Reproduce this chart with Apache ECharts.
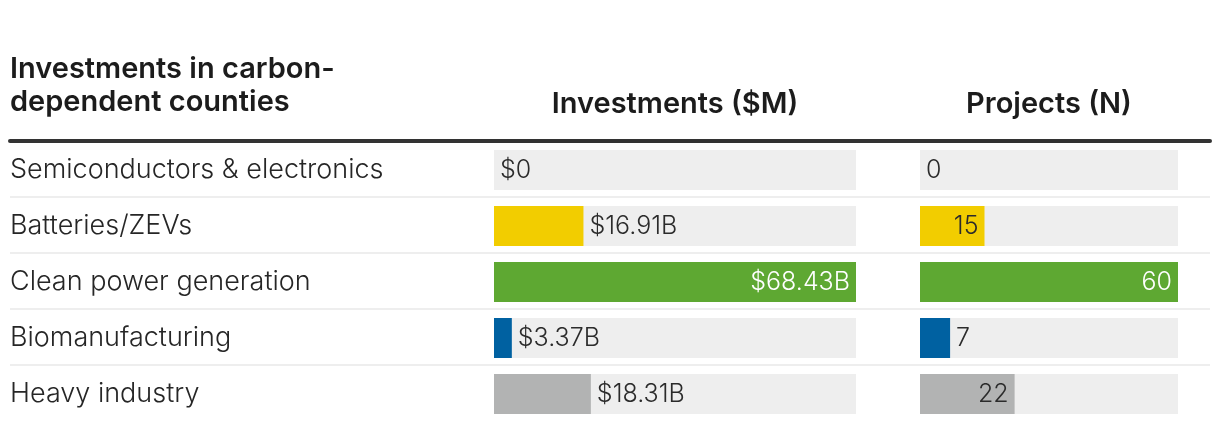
<!DOCTYPE html>
<html>
<head>
<meta charset="utf-8">
<title>Investments in carbon-dependent counties</title>
<script src="https://cdn.jsdelivr.net/npm/echarts@6/dist/echarts.min.js"></script>
<style>
  html, body { margin: 0; padding: 0; background: #fff; }
  #chart { width: 1220px; height: 430px; }
</style>
</head>
<body>
<div id="chart"></div>
<script>
// sectors, top to bottom
var sectors = [
  'Semiconductors & electronics',
  'Batteries/ZEVs',
  'Clean power generation',
  'Biomanufacturing',
  'Heavy industry'
]
// investments, billions of dollars
var investments = [0, 16.91, 68.43, 3.37, 18.31]
// number of projects
var projects = [0, 15, 60, 7, 22]

var sectorColors = ['#f2cd00', '#f2cd00', '#5ea832', '#0061a1', '#b2b3b3']
var FONT = 'Inter, "Noto Sans", sans-serif'
var VALUE_SIZE = 25
var HEAD_FONT = '600 29px ' + FONT

var ctx = document.createElement('canvas').getContext('2d')
ctx.font = '300 ' + VALUE_SIZE + 'px ' + FONT
function textWidth(s) {
  return ctx.measureText(s).width
}

// label goes inside the bar end when it has room, otherwise just right of it
function barData(values, trackWidth, fmt) {
  var max = Math.max.apply(null, values)
  return values.map(function (v, i) {
    var px = v / max * trackWidth
    var inside = px >= textWidth(fmt(v)) + 34
    var color = sectorColors[i]
    return {
      value: v,
      itemStyle: { color: color },
      label: {
        position: inside ? 'insideRight' : 'right',
        color: inside && color === '#5ea832' ? '#fff' : '#2b2b2b'
      }
    }
  })
}

function fmtMoney(v) {
  return v === 0 ? '$0' : '$' + v.toFixed(2) + 'B'
}
function fmtCount(v) {
  return String(v)
}

var myChart = echarts.init(document.getElementById('chart'))

var option = {
  animation: false,
  graphic: [
    {
      type: 'text',
      x: 10,
      y: 86,
      style: {
        text: 'Investments in carbon-\ndependent counties',
        font: HEAD_FONT,
        lineHeight: 33,
        fill: '#1c1c1c',
        textAlign: 'left',
        textVerticalAlign: 'middle'
      }
    },
    {
      type: 'text',
      x: 675,
      y: 104,
      style: {
        text: 'Investments ($M)',
        font: HEAD_FONT,
        fill: '#1c1c1c',
        textAlign: 'center',
        textVerticalAlign: 'middle'
      }
    },
    {
      type: 'text',
      x: 1049,
      y: 104,
      style: {
        text: 'Projects (N)',
        font: HEAD_FONT,
        fill: '#1c1c1c',
        textAlign: 'center',
        textVerticalAlign: 'middle'
      }
    }
  ],
  grid: [
    // full-width row separators + heavy rule
    { left: 10, top: 141, width: 1200, height: 224 },
    // investments column
    { left: 494, top: 142, width: 362, height: 280 },
    // projects column
    { left: 920, top: 142, width: 258, height: 280 }
  ],
  xAxis: [
    {
      gridIndex: 0,
      type: 'value',
      position: 'top',
      z: 5,
      axisLine: { show: true, onZero: false, lineStyle: { color: '#333', width: 4 } },
      axisTick: { show: false },
      axisLabel: { show: false },
      splitLine: { show: false }
    },
    {
      gridIndex: 1,
      type: 'value',
      min: 0,
      max: 'dataMax',
      show: false
    },
    {
      gridIndex: 2,
      type: 'value',
      min: 0,
      max: 'dataMax',
      show: false
    }
  ],
  yAxis: [
    {
      gridIndex: 0,
      type: 'value',
      inverse: true,
      min: 0,
      max: 4,
      interval: 1,
      axisLine: { show: false },
      axisTick: { show: false },
      axisLabel: { show: false },
      splitLine: { show: true, lineStyle: { color: '#eeeeee', width: 2 } }
    },
    {
      gridIndex: 1,
      type: 'category',
      inverse: true,
      data: sectors,
      axisLine: { show: false },
      axisTick: { show: false },
      axisLabel: {
        margin: 484,
        align: 'left',
        fontFamily: FONT,
        fontSize: 27,
        fontWeight: 300,
        color: '#262626'
      }
    },
    {
      gridIndex: 2,
      type: 'category',
      inverse: true,
      data: sectors,
      show: false
    }
  ],
  series: [
    {
      name: 'Investments',
      type: 'bar',
      xAxisIndex: 1,
      yAxisIndex: 1,
      barWidth: 40,
      showBackground: true,
      backgroundStyle: { color: '#eeeeee' },
      label: {
        show: true,
        distance: 6,
        fontFamily: FONT,
        fontSize: VALUE_SIZE,
        fontWeight: 300,
        formatter: function (p) { return fmtMoney(p.value) }
      },
      data: barData(investments, 362, fmtMoney)
    },
    {
      name: 'Projects',
      type: 'bar',
      xAxisIndex: 2,
      yAxisIndex: 2,
      barWidth: 40,
      showBackground: true,
      backgroundStyle: { color: '#eeeeee' },
      label: {
        show: true,
        distance: 6,
        fontFamily: FONT,
        fontSize: VALUE_SIZE,
        fontWeight: 300,
        formatter: function (p) { return fmtCount(p.value) }
      },
      data: barData(projects, 258, fmtCount)
    }
  ]
}

option && myChart.setOption(option)
</script>
</body>
</html>
